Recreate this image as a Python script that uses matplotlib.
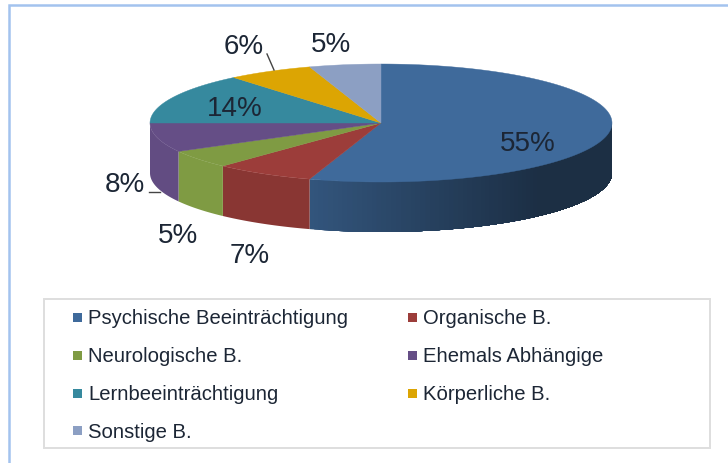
import numpy as np
import matplotlib
matplotlib.use("Agg")
import matplotlib.pyplot as plt
from matplotlib.patches import Polygon, Rectangle
from matplotlib.colors import to_rgb

categories = ["Psychische Beeinträchtigung", "Organische B.", "Neurologische B.",
              "Ehemals Abhängige", "Lernbeeinträchtigung", "Körperliche B.", "Sonstige B."]
values = [55, 7, 5, 8, 14, 6, 5]
value_labels = ["55%", "7%", "5%", "8%", "14%", "6%", "5%"]
colors = ["#3f6a9b", "#9c3d3a", "#7f9b43", "#654e86", "#36899e", "#dca503", "#8c9fc3"]

W, H = 728, 463
fig = plt.figure(figsize=(W / 100, H / 100), dpi=100)
ax = fig.add_axes([0, 0, 1, 1])
ax.set_xlim(0, W)
ax.set_ylim(H, 0)
ax.axis("off")
plt.rcParams["font.family"] = ["Liberation Sans", "DejaVu Sans"]
TXT = "#1c2635"

# outer frame
ax.plot([9, 9, W], [H, 4.5, 4.5], color="#a3c3ee", lw=1.8, solid_joinstyle="miter")

# pie geometry
cx, cy, rx, ry, depth = 381, 123, 231, 59, 50


def pt(theta, dy=0.0):
    return cx + rx * np.sin(theta), cy - ry * np.cos(theta) + dy


def mix(c, f):
    return tuple(min(1, x * f) for x in to_rgb(c))


def wall(t0, t1, color, zorder=2):
    tt = np.linspace(t0, t1, 80)
    xs, ys = pt(tt)
    poly = np.vstack([np.column_stack([xs, ys]),
                      np.column_stack([xs, ys + depth])[::-1]])
    ax.add_patch(Polygon(poly, closed=True, fc=color, ec="none", zorder=zorder))


edges = np.cumsum([0] + values) / sum(values) * 2 * np.pi
spans = list(zip(edges[:-1], edges[1:]))
wall_shade = [None, 0.88, 1.0, 0.97]

# walls (front half only)
for k, ((a, b), col) in enumerate(zip(spans, colors)):
    lo, hi = max(a, np.pi / 2), min(b, 3 * np.pi / 2)
    if lo >= hi:
        continue
    if k == 0:
        # blue wall: light at its left end, dark to the right; nested so no seams show
        for t1 in np.linspace(hi, lo, 90)[:-1]:
            u = (pt(t1)[0] - pt(hi)[0]) / (pt(lo)[0] - pt(hi)[0])
            wall(lo, t1, mix(col, 0.80 - 0.36 * min(1, u / 0.75)))
    else:
        wall(lo, hi, mix(col, wall_shade[k]))

# top faces
for (a, b), col in zip(spans, colors):
    ts = np.linspace(a, b, max(3, int((b - a) * 60)))
    xs, ys = pt(ts)
    ax.add_patch(Polygon(np.vstack([[cx, cy], np.column_stack([xs, ys])]),
                         closed=True, fc=col, ec=col, lw=0.3, zorder=3))

# data labels, placed by slice
label_pos = [(528, 144), (250, 256), (178, 236), (125, 185), (235, 109), (244, 47), (331, 45)]
for txt, (x, y) in zip(value_labels, label_pos):
    ax.text(x, y, txt, fontsize=20, color=TXT, ha="center", va="center", zorder=5)

# leader lines
ax.plot([267, 274], [54, 70], color="#444444", lw=1, zorder=5)
ax.plot([149, 160], [191.5, 191.5], color="#444444", lw=1, zorder=5)

# legend
ax.add_patch(Rectangle((44, 299), 666, 149, fc="white", ec="#dedede", lw=1.4, zorder=1))
col_x = [73, 408]
row_y = [319, 357, 395, 432]
for i, (name, col) in enumerate(zip(categories, colors)):
    x = col_x[i % 2]
    y = row_y[i // 2]
    ax.add_patch(Rectangle((x, y - 6), 9, 9, fc=col, ec="none", zorder=4))
    ax.text(x + 15, y, name, fontsize=14.6, color=TXT, ha="left", va="center", zorder=4)

fig.savefig("out.png", dpi=100)
